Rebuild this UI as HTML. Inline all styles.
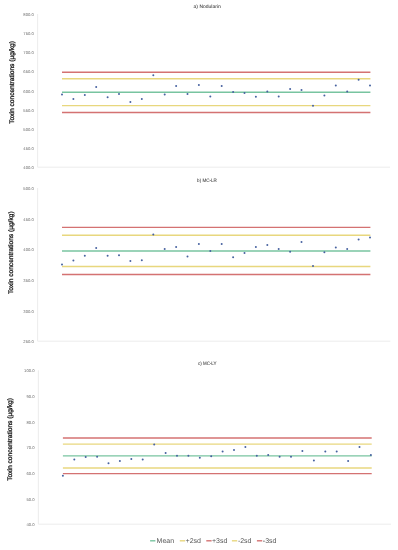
<!DOCTYPE html>
<html><head><meta charset="utf-8"><title>Toxin control charts</title>
<style>
html,body{margin:0;padding:0;background:#fff;}
svg{display:block;}
text{font-family:"Liberation Sans",sans-serif;text-rendering:geometricPrecision;}
</style></head><body>
<svg width="398" height="550" viewBox="0 0 398 550">
<defs><filter id="b" x="-5%" y="-30%" width="110%" height="160%"><feGaussianBlur stdDeviation="0.28"/></filter></defs>
<rect width="398" height="550" fill="#fff"/>
<g filter="url(#b)">
<text transform="translate(207.15,7.65) scale(1.02,1)" font-size="4.9" fill="#4a4a4a" stroke="#4a4a4a" stroke-width="0.08" text-anchor="middle">a) Nodularin</text>
<path d="M37.6 14.0V167.2H390" fill="none" stroke="#eaeaea" stroke-width="0.9"/>
<text transform="translate(33.8,16.0) scale(1,1)" font-size="4.2" fill="#6a6a6a" text-anchor="end">800.0</text>
<text transform="translate(33.8,35.1) scale(1,1)" font-size="4.2" fill="#6a6a6a" text-anchor="end">750.0</text>
<text transform="translate(33.8,54.3) scale(1,1)" font-size="4.2" fill="#6a6a6a" text-anchor="end">700.0</text>
<text transform="translate(33.8,73.4) scale(1,1)" font-size="4.2" fill="#6a6a6a" text-anchor="end">650.0</text>
<text transform="translate(33.8,92.6) scale(1,1)" font-size="4.2" fill="#6a6a6a" text-anchor="end">600.0</text>
<text transform="translate(33.8,111.8) scale(1,1)" font-size="4.2" fill="#6a6a6a" text-anchor="end">550.0</text>
<text transform="translate(33.8,130.9) scale(1,1)" font-size="4.2" fill="#6a6a6a" text-anchor="end">500.0</text>
<text transform="translate(33.8,150.0) scale(1,1)" font-size="4.2" fill="#6a6a6a" text-anchor="end">450.0</text>
<text transform="translate(33.8,169.2) scale(1,1)" font-size="4.2" fill="#6a6a6a" text-anchor="end">400.0</text>
<text transform="translate(13.7,82.4) rotate(-90)" font-size="6.6" fill="#1a1a1a" stroke="#1a1a1a" stroke-width="0.3" text-anchor="middle">Toxin concentrations (µg/kg)</text>
<line x1="62.0" y1="72.25" x2="370.4" y2="72.25" stroke="#d47272" stroke-width="1.4"/>
<line x1="62.0" y1="78.75" x2="370.4" y2="78.75" stroke="#e8d77e" stroke-width="1.4"/>
<line x1="62.0" y1="92.3" x2="370.4" y2="92.3" stroke="#78c4a0" stroke-width="1.4"/>
<line x1="62.0" y1="105.6" x2="370.4" y2="105.6" stroke="#e8d77e" stroke-width="1.4"/>
<line x1="62.0" y1="112.45" x2="370.4" y2="112.45" stroke="#d47272" stroke-width="1.4"/>
<circle cx="62.0" cy="94.4" r="1.0" fill="#4762a0"/>
<circle cx="73.4" cy="99.0" r="1.0" fill="#4762a0"/>
<circle cx="84.8" cy="94.9" r="1.0" fill="#4762a0"/>
<circle cx="96.2" cy="86.9" r="1.0" fill="#4762a0"/>
<circle cx="107.6" cy="97.2" r="1.0" fill="#4762a0"/>
<circle cx="119.0" cy="94.1" r="1.0" fill="#4762a0"/>
<circle cx="130.4" cy="101.9" r="1.0" fill="#4762a0"/>
<circle cx="141.8" cy="98.9" r="1.0" fill="#4762a0"/>
<circle cx="153.3" cy="75.2" r="1.0" fill="#4762a0"/>
<circle cx="164.7" cy="94.6" r="1.0" fill="#4762a0"/>
<circle cx="176.1" cy="85.9" r="1.0" fill="#4762a0"/>
<circle cx="187.5" cy="93.9" r="1.0" fill="#4762a0"/>
<circle cx="198.9" cy="85.1" r="1.0" fill="#4762a0"/>
<circle cx="210.3" cy="96.4" r="1.0" fill="#4762a0"/>
<circle cx="221.7" cy="85.9" r="1.0" fill="#4762a0"/>
<circle cx="233.1" cy="91.9" r="1.0" fill="#4762a0"/>
<circle cx="244.5" cy="92.9" r="1.0" fill="#4762a0"/>
<circle cx="255.9" cy="96.7" r="1.0" fill="#4762a0"/>
<circle cx="267.3" cy="91.4" r="1.0" fill="#4762a0"/>
<circle cx="278.7" cy="96.4" r="1.0" fill="#4762a0"/>
<circle cx="290.1" cy="89.1" r="1.0" fill="#4762a0"/>
<circle cx="301.5" cy="89.9" r="1.0" fill="#4762a0"/>
<circle cx="313.0" cy="105.7" r="1.0" fill="#4762a0"/>
<circle cx="324.4" cy="95.5" r="1.0" fill="#4762a0"/>
<circle cx="335.8" cy="85.4" r="1.0" fill="#4762a0"/>
<circle cx="347.2" cy="91.6" r="1.0" fill="#4762a0"/>
<circle cx="358.6" cy="79.8" r="1.0" fill="#4762a0"/>
<circle cx="370.0" cy="85.4" r="1.0" fill="#4762a0"/>
<text transform="translate(207.0,181.95) scale(0.933,1)" font-size="4.9" fill="#4a4a4a" stroke="#4a4a4a" stroke-width="0.08" text-anchor="middle">b) MC-LR</text>
<path d="M37.6 188.0V341.2H390.3" fill="none" stroke="#eaeaea" stroke-width="0.9"/>
<text transform="translate(33.8,190.0) scale(1,1)" font-size="4.2" fill="#6a6a6a" text-anchor="end">500.0</text>
<text transform="translate(33.8,220.6) scale(1,1)" font-size="4.2" fill="#6a6a6a" text-anchor="end">450.0</text>
<text transform="translate(33.8,251.3) scale(1,1)" font-size="4.2" fill="#6a6a6a" text-anchor="end">400.0</text>
<text transform="translate(33.8,281.9) scale(1,1)" font-size="4.2" fill="#6a6a6a" text-anchor="end">350.0</text>
<text transform="translate(33.8,312.6) scale(1,1)" font-size="4.2" fill="#6a6a6a" text-anchor="end">300.0</text>
<text transform="translate(33.8,343.2) scale(1,1)" font-size="4.2" fill="#6a6a6a" text-anchor="end">250.0</text>
<text transform="translate(13.399999999999999,252.7) rotate(-90)" font-size="6.6" fill="#1a1a1a" stroke="#1a1a1a" stroke-width="0.3" text-anchor="middle">Toxin concentrations (µg/kg)</text>
<line x1="62.0" y1="227.4" x2="370.4" y2="227.4" stroke="#d47272" stroke-width="1.4"/>
<line x1="62.0" y1="235.2" x2="370.4" y2="235.2" stroke="#e8d77e" stroke-width="1.4"/>
<line x1="62.0" y1="251.0" x2="370.4" y2="251.0" stroke="#78c4a0" stroke-width="1.4"/>
<line x1="62.0" y1="266.5" x2="370.4" y2="266.5" stroke="#e8d77e" stroke-width="1.4"/>
<line x1="62.0" y1="274.5" x2="370.4" y2="274.5" stroke="#d47272" stroke-width="1.4"/>
<circle cx="62.0" cy="264.5" r="1.0" fill="#4762a0"/>
<circle cx="73.4" cy="260.5" r="1.0" fill="#4762a0"/>
<circle cx="84.8" cy="255.7" r="1.0" fill="#4762a0"/>
<circle cx="96.2" cy="247.9" r="1.0" fill="#4762a0"/>
<circle cx="107.6" cy="255.7" r="1.0" fill="#4762a0"/>
<circle cx="119.0" cy="255.2" r="1.0" fill="#4762a0"/>
<circle cx="130.4" cy="261.0" r="1.0" fill="#4762a0"/>
<circle cx="141.8" cy="260.2" r="1.0" fill="#4762a0"/>
<circle cx="153.3" cy="234.6" r="1.0" fill="#4762a0"/>
<circle cx="164.7" cy="249.1" r="1.0" fill="#4762a0"/>
<circle cx="176.1" cy="247.0" r="1.0" fill="#4762a0"/>
<circle cx="187.5" cy="256.4" r="1.0" fill="#4762a0"/>
<circle cx="198.9" cy="244.1" r="1.0" fill="#4762a0"/>
<circle cx="210.3" cy="250.9" r="1.0" fill="#4762a0"/>
<circle cx="221.7" cy="244.1" r="1.0" fill="#4762a0"/>
<circle cx="233.1" cy="257.2" r="1.0" fill="#4762a0"/>
<circle cx="244.5" cy="252.9" r="1.0" fill="#4762a0"/>
<circle cx="255.9" cy="247.1" r="1.0" fill="#4762a0"/>
<circle cx="267.3" cy="244.9" r="1.0" fill="#4762a0"/>
<circle cx="278.7" cy="249.1" r="1.0" fill="#4762a0"/>
<circle cx="290.1" cy="251.7" r="1.0" fill="#4762a0"/>
<circle cx="301.5" cy="241.9" r="1.0" fill="#4762a0"/>
<circle cx="313.0" cy="266.0" r="1.0" fill="#4762a0"/>
<circle cx="324.4" cy="252.2" r="1.0" fill="#4762a0"/>
<circle cx="335.8" cy="247.4" r="1.0" fill="#4762a0"/>
<circle cx="347.2" cy="249.1" r="1.0" fill="#4762a0"/>
<circle cx="358.6" cy="239.6" r="1.0" fill="#4762a0"/>
<circle cx="370.0" cy="237.6" r="1.0" fill="#4762a0"/>
<text transform="translate(207.25,364.55) scale(0.91,1)" font-size="4.9" fill="#4a4a4a" stroke="#4a4a4a" stroke-width="0.08" text-anchor="middle">c) MC-LY</text>
<path d="M38.4 370.3V524.2H391" fill="none" stroke="#eaeaea" stroke-width="0.9"/>
<text transform="translate(34.6,372.3) scale(1,1)" font-size="4.2" fill="#6a6a6a" text-anchor="end">100.0</text>
<text transform="translate(34.6,398.0) scale(1,1)" font-size="4.2" fill="#6a6a6a" text-anchor="end">90.0</text>
<text transform="translate(34.6,423.6) scale(1,1)" font-size="4.2" fill="#6a6a6a" text-anchor="end">80.0</text>
<text transform="translate(34.6,449.2) scale(1,1)" font-size="4.2" fill="#6a6a6a" text-anchor="end">70.0</text>
<text transform="translate(34.6,474.9) scale(1,1)" font-size="4.2" fill="#6a6a6a" text-anchor="end">60.0</text>
<text transform="translate(34.6,500.6) scale(1,1)" font-size="4.2" fill="#6a6a6a" text-anchor="end">50.0</text>
<text transform="translate(34.6,526.2) scale(1,1)" font-size="4.2" fill="#6a6a6a" text-anchor="end">40.0</text>
<text transform="translate(12.2,439.4) rotate(-90)" font-size="6.6" fill="#1a1a1a" stroke="#1a1a1a" stroke-width="0.3" text-anchor="middle">Toxin concentrations (µg/kg)</text>
<line x1="62.9" y1="437.95" x2="371.7" y2="437.95" stroke="#d47272" stroke-width="1.4"/>
<line x1="62.9" y1="444.1" x2="371.7" y2="444.1" stroke="#e8d77e" stroke-width="1.4"/>
<line x1="62.9" y1="455.9" x2="371.7" y2="455.9" stroke="#78c4a0" stroke-width="1.4"/>
<line x1="62.9" y1="467.95" x2="371.7" y2="467.95" stroke="#e8d77e" stroke-width="1.4"/>
<line x1="62.9" y1="473.65" x2="371.7" y2="473.65" stroke="#d47272" stroke-width="1.4"/>
<circle cx="62.9" cy="475.8" r="1.0" fill="#4762a0"/>
<circle cx="74.3" cy="459.4" r="1.0" fill="#4762a0"/>
<circle cx="85.7" cy="456.9" r="1.0" fill="#4762a0"/>
<circle cx="97.1" cy="456.7" r="1.0" fill="#4762a0"/>
<circle cx="108.5" cy="463.2" r="1.0" fill="#4762a0"/>
<circle cx="119.9" cy="460.9" r="1.0" fill="#4762a0"/>
<circle cx="131.3" cy="458.9" r="1.0" fill="#4762a0"/>
<circle cx="142.7" cy="459.4" r="1.0" fill="#4762a0"/>
<circle cx="154.2" cy="444.6" r="1.0" fill="#4762a0"/>
<circle cx="165.6" cy="452.9" r="1.0" fill="#4762a0"/>
<circle cx="177.0" cy="455.7" r="1.0" fill="#4762a0"/>
<circle cx="188.4" cy="455.7" r="1.0" fill="#4762a0"/>
<circle cx="199.8" cy="457.7" r="1.0" fill="#4762a0"/>
<circle cx="211.2" cy="456.2" r="1.0" fill="#4762a0"/>
<circle cx="222.6" cy="451.6" r="1.0" fill="#4762a0"/>
<circle cx="234.0" cy="449.9" r="1.0" fill="#4762a0"/>
<circle cx="245.4" cy="446.9" r="1.0" fill="#4762a0"/>
<circle cx="256.8" cy="455.7" r="1.0" fill="#4762a0"/>
<circle cx="268.2" cy="454.9" r="1.0" fill="#4762a0"/>
<circle cx="279.6" cy="456.7" r="1.0" fill="#4762a0"/>
<circle cx="291.0" cy="456.7" r="1.0" fill="#4762a0"/>
<circle cx="302.4" cy="450.9" r="1.0" fill="#4762a0"/>
<circle cx="313.9" cy="460.4" r="1.0" fill="#4762a0"/>
<circle cx="325.3" cy="451.6" r="1.0" fill="#4762a0"/>
<circle cx="336.7" cy="451.6" r="1.0" fill="#4762a0"/>
<circle cx="348.1" cy="460.9" r="1.0" fill="#4762a0"/>
<circle cx="359.5" cy="446.9" r="1.0" fill="#4762a0"/>
<circle cx="370.9" cy="454.9" r="1.0" fill="#4762a0"/>
<line x1="150.1" y1="540.8" x2="155.4" y2="540.8" stroke="#78c4a0" stroke-width="1.4"/>
<text x="156.6" y="543.2" font-size="7" fill="#555555">Mean</text>
<line x1="179.8" y1="540.8" x2="185.1" y2="540.8" stroke="#e8d77e" stroke-width="1.4"/>
<text x="185.6" y="543.2" font-size="7" fill="#555555">+2sd</text>
<line x1="206.3" y1="540.8" x2="211.6" y2="540.8" stroke="#d47272" stroke-width="1.4"/>
<text x="212.0" y="543.2" font-size="7" fill="#555555">+3sd</text>
<line x1="231.9" y1="540.8" x2="237.2" y2="540.8" stroke="#e8d77e" stroke-width="1.4"/>
<text x="237.9" y="543.2" font-size="7" fill="#555555">-2sd</text>
<line x1="256.9" y1="540.8" x2="262.2" y2="540.8" stroke="#d47272" stroke-width="1.4"/>
<text x="262.8" y="543.2" font-size="7" fill="#555555">-3sd</text>
</g></svg>
</body></html>
